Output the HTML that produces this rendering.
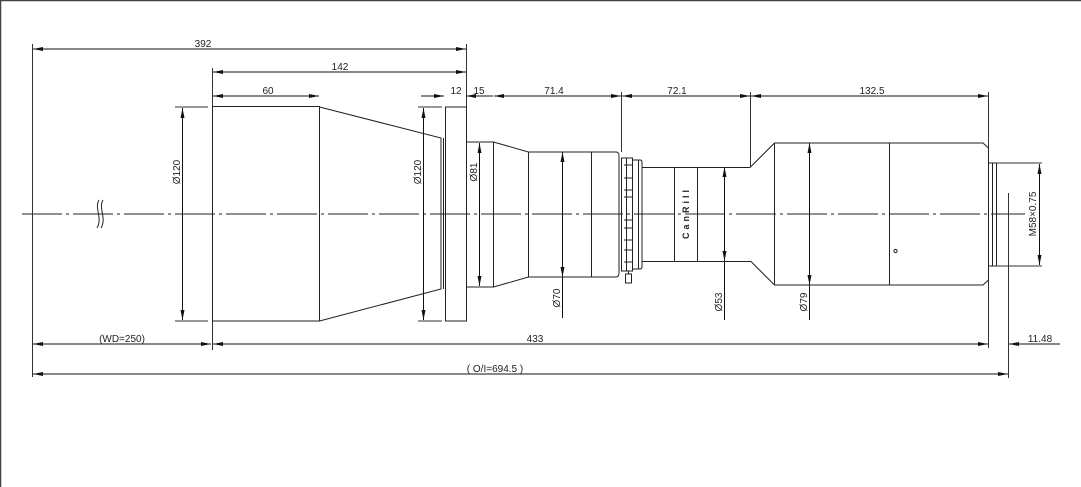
<!DOCTYPE html>
<html><head><meta charset="utf-8"><style>
html,body{margin:0;padding:0;background:#fff;}
svg{display:block;}
text{font-family:"Liberation Sans",sans-serif;font-size:10px;fill:#222;}
</style></head><body>
<svg width="1081" height="487" viewBox="0 0 1081 487" xmlns="http://www.w3.org/2000/svg">
<defs>
<marker id="a" viewBox="0 0 10 4" refX="10" refY="2" markerWidth="10" markerHeight="4" orient="auto-start-reverse" markerUnits="userSpaceOnUse"><path d="M0,0L10,2L0,4z" fill="#111"/></marker>
</defs>
<g fill="none" stroke="#333" stroke-width="1">
<path d="M0.5,0V487M0,0.5H1081" stroke="#444" stroke-width="1.5"/>
<!-- centerline -->
<path d="M22,214H1025" stroke-dasharray="40,4,3,4" stroke="#222"/>
<!-- extension lines -->
<path d="M32.5,44V377M212.5,68V350M466.5,44V107M621.5,92V152M750.5,92V167M988.5,92V348M1008.5,193V378"/>
<path d="M175,107H208M175,321H208M418,107H442M418,321H442M474,142H490M474,287H490"/>
<path d="M996,163H1042M996,266H1042"/>
<!-- dims -->
<g stroke="#111" marker-start="url(#a)" marker-end="url(#a)">
<path d="M33,49H466"/><path d="M213,72H466"/><path d="M213,96H319"/>
<path d="M494,96H621"/><path d="M622,96H750"/><path d="M751,96H988"/>
<path d="M182.5,108V320"/><path d="M423.5,108V320"/><path d="M479.5,143V286"/>
<path d="M33,344H211"/><path d="M213,344H988"/><path d="M33,374H1008"/>
<path d="M1039.5,164V265"/>
</g>
<g stroke="#111">
<path d="M421,96H444" marker-end="url(#a)"/><path d="M493,96H466" marker-end="url(#a)"/>
<path d="M1060,344H1009" marker-end="url(#a)"/>
<path d="M562.5,262V318" /><path d="M562.5,167V152" marker-end="url(#a)"/><path d="M562.5,262V277" marker-end="url(#a)"/>
<path d="M562.5,167V262"/>
<path d="M724.5,240V320"/><path d="M724.5,185V167" marker-end="url(#a)"/><path d="M724.5,240V261" marker-end="url(#a)"/><path d="M724.5,185V240"/>
<path d="M809.5,143V320"/><path d="M809.5,170V143" marker-end="url(#a)"/><path d="M809.5,260V285" marker-end="url(#a)"/>
</g>
<!-- break symbol -->
<path d="M99,200C94,208 103,218 97,228M103,200C98,208 107,218 101,228" stroke="#222"/>
<!-- body -->
<g stroke="#222">
<path d="M212.5,106.5H319.5V321H212.5Z"/>
<path d="M319.5,107L441,138V289L319.5,321"/>
<path d="M443.5,138V289"/>
<rect x="445.5" y="107" width="21" height="214"/>
<path d="M466.5,142H493.5V287H466.5"/>
<path d="M493.5,142L528.5,152V277L493.5,287"/>
<path d="M528.5,152H616Q619,152 619,156V273Q619,277 616,277H528.5"/>
<path d="M591.5,152V277"/>
<rect x="621.5" y="158" width="11" height="113"/>
<path d="M624,165H632M624,178H632M624,190H632M624,197H632M624,220H632M624,228H632M624,240H632M624,250H632M624,262H632"/>
<path d="M626.5,158V271"/>
<path d="M632.5,160H640Q642,160 642,162V267Q642,269 640,269H632.5"/>
<path d="M638.5,160V269"/>
<rect x="625.5" y="274" width="6" height="9"/><path d="M628.5,271V274"/>
<path d="M642,167.5H750.5M642,261.5H750.5"/>
<path d="M674.5,167V261M697.5,167V261"/>
<path d="M750.5,167L774.5,143H983L988.5,148V280L983,285H774.5L750.5,261"/>
<path d="M774.5,143V285M889.5,143V285"/>
<circle cx="895.5" cy="251" r="1.6"/>
<path d="M988.5,163H996.5V266H988.5M992.5,163V266"/>
</g>
</g>
<g>
<text x="203" y="47" text-anchor="middle">392</text>
<text x="340" y="70" text-anchor="middle">142</text>
<text x="268" y="94" text-anchor="middle">60</text>
<text x="456" y="94" text-anchor="middle">12</text>
<text x="479" y="94" text-anchor="middle">15</text>
<text x="554" y="94" text-anchor="middle">71.4</text>
<text x="677" y="94" text-anchor="middle">72.1</text>
<text x="872" y="94" text-anchor="middle">132.5</text>
<text x="122" y="342" text-anchor="middle">(WD=250)</text>
<text x="535" y="342" text-anchor="middle">433</text>
<text x="1040" y="342" text-anchor="middle">11.48</text>
<text x="495" y="372" text-anchor="middle">( O/I=694.5 )</text>
<text transform="translate(180,172) rotate(-90)" text-anchor="middle">Ø120</text>
<text transform="translate(421,172) rotate(-90)" text-anchor="middle">Ø120</text>
<text transform="translate(477,172) rotate(-90)" text-anchor="middle">Ø81</text>
<text transform="translate(560,298) rotate(-90)" text-anchor="middle">Ø70</text>
<text transform="translate(722,302) rotate(-90)" text-anchor="middle">Ø53</text>
<text transform="translate(807,302) rotate(-90)" text-anchor="middle">Ø79</text>
<text transform="translate(1036,214) rotate(-90)" text-anchor="middle">M58×0.75</text>
<text transform="translate(689,213) rotate(-90)" text-anchor="middle" style="font-weight:bold;font-size:9px;letter-spacing:3px">CanRill</text>
</g>
</svg>
</body></html>
